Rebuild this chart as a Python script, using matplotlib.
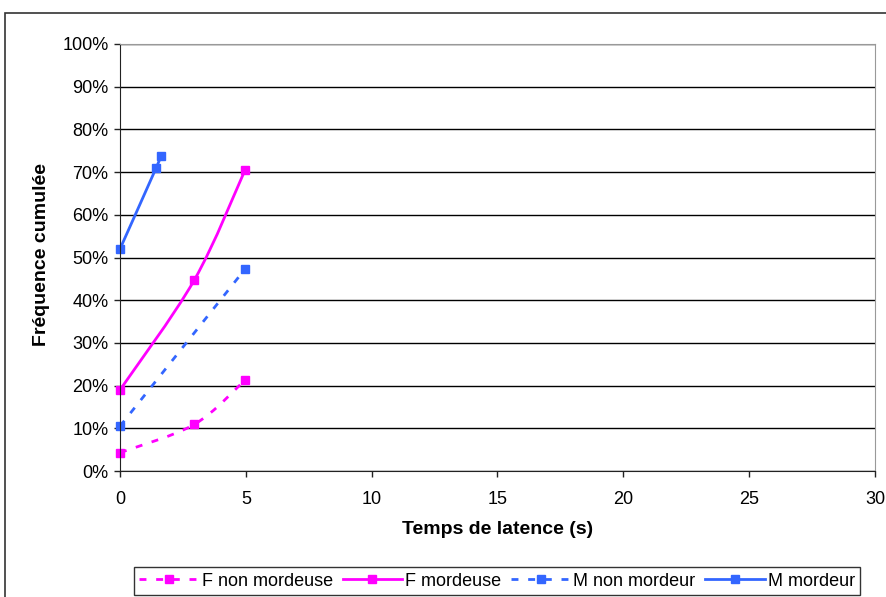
import numpy as np
import matplotlib.pyplot as plt
from matplotlib.path import Path
from matplotlib.patches import PathPatch, Rectangle

plt.rcParams['font.family'] = ['Liberation Sans', 'DejaVu Sans']

# data
f_non_x = [0, 2.95, 4.97]
f_non_y = [4.3, 10.9, 21.3]
f_mord_x = [0, 2.95, 4.97]
f_mord_y = [19.0, 44.7, 70.5]
m_non_x = [0, 4.97]
m_non_y = [10.5, 47.3]
m_mord_x = [0, 1.43, 1.63]
m_mord_y = [52.0, 70.9, 73.8]

series = [
    ('F non mordeuse', f_non_x, f_non_y, '#FF00FF', (0, (2.5, 3.5))),
    ('F mordeuse', f_mord_x, f_mord_y, '#FF00FF', '-'),
    ('M non mordeur', m_non_x, m_non_y, '#3366FF', (0, (2.5, 3.5))),
    ('M mordeur', m_mord_x, m_mord_y, '#3366FF', '-'),
]


def smooth_path(xs, ys):
    # excel-like smoothed line: cubic bezier segments through the points
    pts = np.column_stack([xs, ys]).astype(float)
    verts = [pts[0]]
    codes = [Path.MOVETO]
    n = len(pts)
    for i in range(n - 1):
        p0 = pts[i - 1] if i > 0 else pts[i]
        p1 = pts[i]
        p2 = pts[i + 1]
        p3 = pts[i + 2] if i + 2 < n else pts[i + 1]
        c1 = p1 + (p2 - p0) / 6.0
        c2 = p2 - (p3 - p1) / 6.0
        verts += [c1, c2, p2]
        codes += [Path.CURVE4] * 3
    return Path(verts, codes)


fig = plt.figure(figsize=(8.87, 5.97), dpi=100)
fig.patches.append(Rectangle((5 / 887, -0.1), 1.0, (597 - 13) / 597 + 0.1,
                             transform=fig.transFigure, fill=False,
                             edgecolor='#333333', linewidth=1.2))

ax = fig.add_axes([120 / 887, 126 / 597, 755 / 887, 427 / 597])

for name, xs, ys, col, ls in series:
    ax.add_patch(PathPatch(smooth_path(xs, ys), fill=False, edgecolor=col,
                           linewidth=2, linestyle=ls, capstyle='butt'))
    ax.plot(xs, ys, linestyle='none', marker='s', markersize=6, color=col,
            clip_on=False)
    ax.plot([], [], color=col, linestyle=ls, linewidth=2, marker='s',
            markersize=6, label=name)

ax.set_xlim(0, 30)
ax.set_ylim(0, 100)
ax.set_xticks(range(0, 31, 5))
ax.set_yticks(range(0, 101, 10))
ax.set_yticklabels([f'{v}%' for v in range(0, 101, 10)])
ax.grid(axis='y', color='black', linewidth=1)
ax.set_axisbelow(True)
ax.tick_params(labelsize=13, length=4.3, width=1, color='#222222')
ax.tick_params(axis='x', pad=10)
ax.tick_params(axis='y', pad=4)
for s in ['top', 'right']:
    ax.spines[s].set_color('#999999')
for s in ['left', 'bottom']:
    ax.spines[s].set_color('#222222')

ax.set_xlabel('Temps de latence (s)', fontsize=14, fontweight='bold')
ax.set_ylabel('Fréquence cumulée', fontsize=14, fontweight='bold')
ax.xaxis.set_label_coords(0.5, (597 - 530 - 126) / 427)
ax.xaxis.label.set_va('center')
ax.yaxis.set_label_coords((42 - 120) / 755, (597 - 255 - 126) / 427)
ax.yaxis.label.set_va('center')

leg = fig.legend(loc='lower center', bbox_to_anchor=(497 / 887, 0.0), ncol=4,
                 fontsize=13, frameon=True, fancybox=False, edgecolor='black',
                 handlelength=3.3, handletextpad=0.15, columnspacing=0.55,
                 borderpad=0.3, borderaxespad=0.1)
leg.get_frame().set_linewidth(1)

fig.savefig('out.png', dpi=100)
